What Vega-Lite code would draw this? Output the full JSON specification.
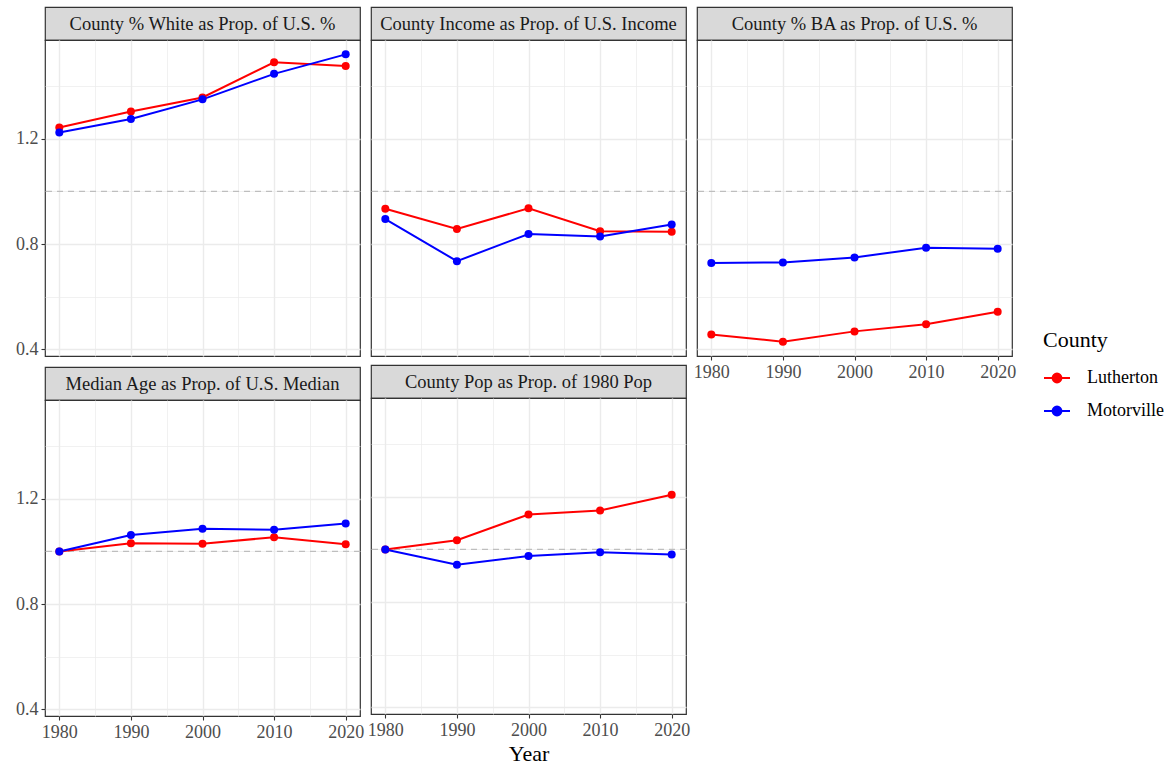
{
  "$schema": "https://vega.github.io/schema/vega-lite/v6.json",
  "padding": {"left": 14, "top": 6, "right": 5, "bottom": 5},
  "background": "white",
  "datasets": {
    "panels": [
      {"panel": "white", "label": "County % White as Prop. of U.S. %"},
      {"panel": "income", "label": "County Income as Prop. of U.S. Income"},
      {"panel": "ba", "label": "County % BA as Prop. of U.S. %"},
      {"panel": "age", "label": "Median Age as Prop. of U.S. Median"},
      {"panel": "pop", "label": "County Pop as Prop. of 1980 Pop"}
    ],
    "refs": [{"ref": 1}],
    "rows": [
      {"panel": "white", "county": "Lutherton", "year": 1980, "value": 1.243},
      {"panel": "white", "county": "Lutherton", "year": 1990, "value": 1.304},
      {"panel": "white", "county": "Lutherton", "year": 2000, "value": 1.357},
      {"panel": "white", "county": "Lutherton", "year": 2010, "value": 1.491},
      {"panel": "white", "county": "Lutherton", "year": 2020, "value": 1.477},
      {"panel": "income", "county": "Lutherton", "year": 1980, "value": 0.934},
      {"panel": "income", "county": "Lutherton", "year": 1990, "value": 0.857},
      {"panel": "income", "county": "Lutherton", "year": 2000, "value": 0.936},
      {"panel": "income", "county": "Lutherton", "year": 2010, "value": 0.849},
      {"panel": "income", "county": "Lutherton", "year": 2020, "value": 0.847},
      {"panel": "ba", "county": "Lutherton", "year": 1980, "value": 0.456},
      {"panel": "ba", "county": "Lutherton", "year": 1990, "value": 0.429},
      {"panel": "ba", "county": "Lutherton", "year": 2000, "value": 0.468},
      {"panel": "ba", "county": "Lutherton", "year": 2010, "value": 0.495},
      {"panel": "ba", "county": "Lutherton", "year": 2020, "value": 0.543},
      {"panel": "age", "county": "Lutherton", "year": 1980, "value": 1.0},
      {"panel": "age", "county": "Lutherton", "year": 1990, "value": 1.031},
      {"panel": "age", "county": "Lutherton", "year": 2000, "value": 1.029},
      {"panel": "age", "county": "Lutherton", "year": 2010, "value": 1.054},
      {"panel": "age", "county": "Lutherton", "year": 2020, "value": 1.027},
      {"panel": "pop", "county": "Lutherton", "year": 1980, "value": 1.0},
      {"panel": "pop", "county": "Lutherton", "year": 1990, "value": 1.035},
      {"panel": "pop", "county": "Lutherton", "year": 2000, "value": 1.133},
      {"panel": "pop", "county": "Lutherton", "year": 2010, "value": 1.148},
      {"panel": "pop", "county": "Lutherton", "year": 2020, "value": 1.208},
      {"panel": "white", "county": "Motorville", "year": 1980, "value": 1.224},
      {"panel": "white", "county": "Motorville", "year": 1990, "value": 1.275},
      {"panel": "white", "county": "Motorville", "year": 2000, "value": 1.35},
      {"panel": "white", "county": "Motorville", "year": 2010, "value": 1.447},
      {"panel": "white", "county": "Motorville", "year": 2020, "value": 1.521},
      {"panel": "income", "county": "Motorville", "year": 1980, "value": 0.895},
      {"panel": "income", "county": "Motorville", "year": 1990, "value": 0.735},
      {"panel": "income", "county": "Motorville", "year": 2000, "value": 0.838},
      {"panel": "income", "county": "Motorville", "year": 2010, "value": 0.829},
      {"panel": "income", "county": "Motorville", "year": 2020, "value": 0.874},
      {"panel": "ba", "county": "Motorville", "year": 1980, "value": 0.728},
      {"panel": "ba", "county": "Motorville", "year": 1990, "value": 0.73},
      {"panel": "ba", "county": "Motorville", "year": 2000, "value": 0.749},
      {"panel": "ba", "county": "Motorville", "year": 2010, "value": 0.786},
      {"panel": "ba", "county": "Motorville", "year": 2020, "value": 0.782},
      {"panel": "age", "county": "Motorville", "year": 1980, "value": 1.0},
      {"panel": "age", "county": "Motorville", "year": 1990, "value": 1.062},
      {"panel": "age", "county": "Motorville", "year": 2000, "value": 1.086},
      {"panel": "age", "county": "Motorville", "year": 2010, "value": 1.082},
      {"panel": "age", "county": "Motorville", "year": 2020, "value": 1.106},
      {"panel": "pop", "county": "Motorville", "year": 1980, "value": 1.0},
      {"panel": "pop", "county": "Motorville", "year": 1990, "value": 0.942},
      {"panel": "pop", "county": "Motorville", "year": 2000, "value": 0.975},
      {"panel": "pop", "county": "Motorville", "year": 2010, "value": 0.989},
      {"panel": "pop", "county": "Motorville", "year": 2020, "value": 0.981}
    ]
  },
  "spacing": 1,
  "hconcat": [
    {
      "spacing": 7,
      "vconcat": [
        {
          "spacing": 0, "bounds": "flush",
          "vconcat": [
            {
              "width": 315, "height": 33,
              "view": {"fill": "#d9d9d9", "stroke": "#333333", "strokeWidth": 1.2},
              "data": {"name": "panels"},
              "transform": [{"filter": "datum.panel === 'white'"}],
              "mark": {"type": "text", "fontSize": 18.5, "color": "#1a1a1a", "baseline": "middle", "align": "center"},
              "encoding": {"text": {"field": "label"}}
            },
            {
              "width": 315, "height": 316,
              "resolve": {"axis": {"x": "independent", "y": "independent"}},
              "layer": [
                {
                  "data": {"name": "refs"},
                  "mark": {"type": "rule", "color": "#bebebe", "strokeDash": [6, 5], "strokeWidth": 1.3},
                  "encoding": {"y": {"field": "ref", "type": "quantitative", "axis": null, "scale": {"domain": [0.3744, 1.5756], "nice": false, "zero": false}}}
                },
                {
                  "data": {"name": "rows"},
                  "transform": [{"filter": "datum.panel === 'white'"}],
                  "mark": {"type": "line", "strokeWidth": 2},
                  "encoding": {
                    "x": {"field": "year", "type": "quantitative", "scale": {"domain": [1978, 2022], "nice": false, "zero": false}, "axis": {"orient": "bottom", "values": [1980, 1990, 2000, 2010, 2020], "grid": true, "labels": false, "ticks": false, "title": null}},
                    "y": {"field": "value", "type": "quantitative", "axis": {"orient": "left", "values": [0.4, 0.8, 1.2], "grid": true, "format": ".1f", "title": null}},
                    "color": {"field": "county", "type": "nominal", "title": "County", "scale": {"domain": ["Lutherton", "Motorville"], "range": ["#ff0000", "#0000ff"]},
                      "legend": {"orient": "none", "legendX": 998, "legendY": 323, "symbolType": "M-1,0L1,0M-0.34,0A0.34,0.34,0,1,0,0.34,0A0.34,0.34,0,1,0,-0.34,0Z", "symbolSize": 676,
                        "encode": {"symbols": {"update": {"fill": {"scale": "color", "field": "value"}, "stroke": {"scale": "color", "field": "value"}, "strokeWidth": {"value": 2}}}}}}
                  }
                },
                {
                  "data": {"name": "rows"},
                  "transform": [{"filter": "datum.panel === 'white'"}],
                  "mark": {"type": "circle", "size": 64, "opacity": 1},
                  "encoding": {
                    "x": {"field": "year", "type": "quantitative", "axis": {"orient": "top", "values": [1985, 1995, 2005, 2015], "grid": true, "gridWidth": 0.7, "labels": false, "ticks": false, "title": null}},
                    "y": {"field": "value", "type": "quantitative", "axis": {"orient": "right", "values": [0.6, 1.0, 1.4], "grid": true, "gridWidth": 0.7, "labels": false, "ticks": false, "title": null}},
                    "color": {"field": "county", "type": "nominal", "title": "County", "scale": {"domain": ["Lutherton", "Motorville"], "range": ["#ff0000", "#0000ff"]},
                      "legend": {"orient": "none", "legendX": 998, "legendY": 323, "symbolType": "M-1,0L1,0M-0.34,0A0.34,0.34,0,1,0,0.34,0A0.34,0.34,0,1,0,-0.34,0Z", "symbolSize": 676,
                        "encode": {"symbols": {"update": {"fill": {"scale": "color", "field": "value"}, "stroke": {"scale": "color", "field": "value"}, "strokeWidth": {"value": 2}}}}}}
                  }
                }
              ]
            }
          ]
        },
        {
          "spacing": 0, "bounds": "flush",
          "vconcat": [
            {
              "width": 315, "height": 33,
              "view": {"fill": "#d9d9d9", "stroke": "#333333", "strokeWidth": 1.2},
              "data": {"name": "panels"},
              "transform": [{"filter": "datum.panel === 'age'"}],
              "mark": {"type": "text", "fontSize": 18.5, "color": "#1a1a1a", "baseline": "middle", "align": "center"},
              "encoding": {"text": {"field": "label"}}
            },
            {
              "width": 315, "height": 316,
              "resolve": {"axis": {"x": "independent", "y": "independent"}},
              "layer": [
                {
                  "data": {"name": "refs"},
                  "mark": {"type": "rule", "color": "#bebebe", "strokeDash": [6, 5], "strokeWidth": 1.3},
                  "encoding": {"y": {"field": "ref", "type": "quantitative", "axis": null, "scale": {"domain": [0.3744, 1.5756], "nice": false, "zero": false}}}
                },
                {
                  "data": {"name": "rows"},
                  "transform": [{"filter": "datum.panel === 'age'"}],
                  "mark": {"type": "line", "strokeWidth": 2},
                  "encoding": {
                    "x": {"field": "year", "type": "quantitative", "scale": {"domain": [1978, 2022], "nice": false, "zero": false}, "axis": {"orient": "bottom", "values": [1980, 1990, 2000, 2010, 2020], "grid": true, "format": "d", "title": null}},
                    "y": {"field": "value", "type": "quantitative", "axis": {"orient": "left", "values": [0.4, 0.8, 1.2], "grid": true, "format": ".1f", "title": null}},
                    "color": {"field": "county", "type": "nominal", "title": "County", "scale": {"domain": ["Lutherton", "Motorville"], "range": ["#ff0000", "#0000ff"]},
                      "legend": {"orient": "none", "legendX": 998, "legendY": 323, "symbolType": "M-1,0L1,0M-0.34,0A0.34,0.34,0,1,0,0.34,0A0.34,0.34,0,1,0,-0.34,0Z", "symbolSize": 676,
                        "encode": {"symbols": {"update": {"fill": {"scale": "color", "field": "value"}, "stroke": {"scale": "color", "field": "value"}, "strokeWidth": {"value": 2}}}}}}
                  }
                },
                {
                  "data": {"name": "rows"},
                  "transform": [{"filter": "datum.panel === 'age'"}],
                  "mark": {"type": "circle", "size": 64, "opacity": 1},
                  "encoding": {
                    "x": {"field": "year", "type": "quantitative", "axis": {"orient": "top", "values": [1985, 1995, 2005, 2015], "grid": true, "gridWidth": 0.7, "labels": false, "ticks": false, "title": null}},
                    "y": {"field": "value", "type": "quantitative", "axis": {"orient": "right", "values": [0.6, 1.0, 1.4], "grid": true, "gridWidth": 0.7, "labels": false, "ticks": false, "title": null}},
                    "color": {"field": "county", "type": "nominal", "title": "County", "scale": {"domain": ["Lutherton", "Motorville"], "range": ["#ff0000", "#0000ff"]},
                      "legend": {"orient": "none", "legendX": 998, "legendY": 323, "symbolType": "M-1,0L1,0M-0.34,0A0.34,0.34,0,1,0,0.34,0A0.34,0.34,0,1,0,-0.34,0Z", "symbolSize": 676,
                        "encode": {"symbols": {"update": {"fill": {"scale": "color", "field": "value"}, "stroke": {"scale": "color", "field": "value"}, "strokeWidth": {"value": 2}}}}}}
                  }
                }
              ]
            }
          ]
        }
      ]
    },
    {
      "spacing": 7,
      "vconcat": [
        {
          "spacing": 0, "bounds": "flush",
          "vconcat": [
            {
              "width": 315, "height": 33,
              "view": {"fill": "#d9d9d9", "stroke": "#333333", "strokeWidth": 1.2},
              "data": {"name": "panels"},
              "transform": [{"filter": "datum.panel === 'income'"}],
              "mark": {"type": "text", "fontSize": 18.5, "color": "#1a1a1a", "baseline": "middle", "align": "center"},
              "encoding": {"text": {"field": "label"}}
            },
            {
              "width": 315, "height": 316,
              "resolve": {"axis": {"x": "independent", "y": "independent"}},
              "layer": [
                {
                  "data": {"name": "refs"},
                  "mark": {"type": "rule", "color": "#bebebe", "strokeDash": [6, 5], "strokeWidth": 1.3},
                  "encoding": {"y": {"field": "ref", "type": "quantitative", "axis": null, "scale": {"domain": [0.3744, 1.5756], "nice": false, "zero": false}}}
                },
                {
                  "data": {"name": "rows"},
                  "transform": [{"filter": "datum.panel === 'income'"}],
                  "mark": {"type": "line", "strokeWidth": 2},
                  "encoding": {
                    "x": {"field": "year", "type": "quantitative", "scale": {"domain": [1978, 2022], "nice": false, "zero": false}, "axis": {"orient": "bottom", "values": [1980, 1990, 2000, 2010, 2020], "grid": true, "labels": false, "ticks": false, "title": null}},
                    "y": {"field": "value", "type": "quantitative", "axis": {"orient": "left", "values": [0.4, 0.8, 1.2], "grid": true, "labels": false, "ticks": false, "title": null}},
                    "color": {"field": "county", "type": "nominal", "title": "County", "scale": {"domain": ["Lutherton", "Motorville"], "range": ["#ff0000", "#0000ff"]},
                      "legend": {"orient": "none", "legendX": 998, "legendY": 323, "symbolType": "M-1,0L1,0M-0.34,0A0.34,0.34,0,1,0,0.34,0A0.34,0.34,0,1,0,-0.34,0Z", "symbolSize": 676,
                        "encode": {"symbols": {"update": {"fill": {"scale": "color", "field": "value"}, "stroke": {"scale": "color", "field": "value"}, "strokeWidth": {"value": 2}}}}}}
                  }
                },
                {
                  "data": {"name": "rows"},
                  "transform": [{"filter": "datum.panel === 'income'"}],
                  "mark": {"type": "circle", "size": 64, "opacity": 1},
                  "encoding": {
                    "x": {"field": "year", "type": "quantitative", "axis": {"orient": "top", "values": [1985, 1995, 2005, 2015], "grid": true, "gridWidth": 0.7, "labels": false, "ticks": false, "title": null}},
                    "y": {"field": "value", "type": "quantitative", "axis": {"orient": "right", "values": [0.6, 1.0, 1.4], "grid": true, "gridWidth": 0.7, "labels": false, "ticks": false, "title": null}},
                    "color": {"field": "county", "type": "nominal", "title": "County", "scale": {"domain": ["Lutherton", "Motorville"], "range": ["#ff0000", "#0000ff"]},
                      "legend": {"orient": "none", "legendX": 998, "legendY": 323, "symbolType": "M-1,0L1,0M-0.34,0A0.34,0.34,0,1,0,0.34,0A0.34,0.34,0,1,0,-0.34,0Z", "symbolSize": 676,
                        "encode": {"symbols": {"update": {"fill": {"scale": "color", "field": "value"}, "stroke": {"scale": "color", "field": "value"}, "strokeWidth": {"value": 2}}}}}}
                  }
                }
              ]
            }
          ]
        },
        {
          "spacing": 0, "bounds": "flush",
          "vconcat": [
            {
              "width": 315, "height": 33,
              "view": {"fill": "#d9d9d9", "stroke": "#333333", "strokeWidth": 1.2},
              "data": {"name": "panels"},
              "transform": [{"filter": "datum.panel === 'pop'"}],
              "mark": {"type": "text", "fontSize": 18.5, "color": "#1a1a1a", "baseline": "middle", "align": "center"},
              "encoding": {"text": {"field": "label"}}
            },
            {
              "width": 315, "height": 316,
              "resolve": {"axis": {"x": "independent", "y": "independent"}},
              "layer": [
                {
                  "data": {"name": "refs"},
                  "mark": {"type": "rule", "color": "#bebebe", "strokeDash": [6, 5], "strokeWidth": 1.3},
                  "encoding": {"y": {"field": "ref", "type": "quantitative", "axis": null, "scale": {"domain": [0.3744, 1.5756], "nice": false, "zero": false}}}
                },
                {
                  "data": {"name": "rows"},
                  "transform": [{"filter": "datum.panel === 'pop'"}],
                  "mark": {"type": "line", "strokeWidth": 2},
                  "encoding": {
                    "x": {"field": "year", "type": "quantitative", "scale": {"domain": [1978, 2022], "nice": false, "zero": false}, "axis": {"orient": "bottom", "values": [1980, 1990, 2000, 2010, 2020], "grid": true, "format": "d", "title": "Year"}},
                    "y": {"field": "value", "type": "quantitative", "axis": {"orient": "left", "values": [0.4, 0.8, 1.2], "grid": true, "labels": false, "ticks": false, "title": null}},
                    "color": {"field": "county", "type": "nominal", "title": "County", "scale": {"domain": ["Lutherton", "Motorville"], "range": ["#ff0000", "#0000ff"]},
                      "legend": {"orient": "none", "legendX": 998, "legendY": 323, "symbolType": "M-1,0L1,0M-0.34,0A0.34,0.34,0,1,0,0.34,0A0.34,0.34,0,1,0,-0.34,0Z", "symbolSize": 676,
                        "encode": {"symbols": {"update": {"fill": {"scale": "color", "field": "value"}, "stroke": {"scale": "color", "field": "value"}, "strokeWidth": {"value": 2}}}}}}
                  }
                },
                {
                  "data": {"name": "rows"},
                  "transform": [{"filter": "datum.panel === 'pop'"}],
                  "mark": {"type": "circle", "size": 64, "opacity": 1},
                  "encoding": {
                    "x": {"field": "year", "type": "quantitative", "axis": {"orient": "top", "values": [1985, 1995, 2005, 2015], "grid": true, "gridWidth": 0.7, "labels": false, "ticks": false, "title": null}},
                    "y": {"field": "value", "type": "quantitative", "axis": {"orient": "right", "values": [0.6, 1.0, 1.4], "grid": true, "gridWidth": 0.7, "labels": false, "ticks": false, "title": null}},
                    "color": {"field": "county", "type": "nominal", "title": "County", "scale": {"domain": ["Lutherton", "Motorville"], "range": ["#ff0000", "#0000ff"]},
                      "legend": {"orient": "none", "legendX": 998, "legendY": 323, "symbolType": "M-1,0L1,0M-0.34,0A0.34,0.34,0,1,0,0.34,0A0.34,0.34,0,1,0,-0.34,0Z", "symbolSize": 676,
                        "encode": {"symbols": {"update": {"fill": {"scale": "color", "field": "value"}, "stroke": {"scale": "color", "field": "value"}, "strokeWidth": {"value": 2}}}}}}
                  }
                }
              ]
            }
          ]
        }
      ]
    },
    {
      "spacing": 0, "bounds": "flush",
      "vconcat": [
        {
          "width": 315, "height": 33,
          "view": {"fill": "#d9d9d9", "stroke": "#333333", "strokeWidth": 1.2},
          "data": {"name": "panels"},
          "transform": [{"filter": "datum.panel === 'ba'"}],
          "mark": {"type": "text", "fontSize": 18.5, "color": "#1a1a1a", "baseline": "middle", "align": "center"},
          "encoding": {"text": {"field": "label"}}
        },
        {
          "width": 315, "height": 316,
          "resolve": {"axis": {"x": "independent", "y": "independent"}},
          "layer": [
            {
              "data": {"name": "refs"},
              "mark": {"type": "rule", "color": "#bebebe", "strokeDash": [6, 5], "strokeWidth": 1.3},
              "encoding": {"y": {"field": "ref", "type": "quantitative", "axis": null, "scale": {"domain": [0.3744, 1.5756], "nice": false, "zero": false}}}
            },
            {
              "data": {"name": "rows"},
              "transform": [{"filter": "datum.panel === 'ba'"}],
              "mark": {"type": "line", "strokeWidth": 2},
              "encoding": {
                "x": {"field": "year", "type": "quantitative", "scale": {"domain": [1978, 2022], "nice": false, "zero": false}, "axis": {"orient": "bottom", "values": [1980, 1990, 2000, 2010, 2020], "grid": true, "format": "d", "title": null}},
                "y": {"field": "value", "type": "quantitative", "axis": {"orient": "left", "values": [0.4, 0.8, 1.2], "grid": true, "labels": false, "ticks": false, "title": null}},
                "color": {"field": "county", "type": "nominal", "title": "County", "scale": {"domain": ["Lutherton", "Motorville"], "range": ["#ff0000", "#0000ff"]},
                  "legend": {"orient": "none", "legendX": 998, "legendY": 323, "symbolType": "M-1,0L1,0M-0.34,0A0.34,0.34,0,1,0,0.34,0A0.34,0.34,0,1,0,-0.34,0Z", "symbolSize": 676,
                    "encode": {"symbols": {"update": {"fill": {"scale": "color", "field": "value"}, "stroke": {"scale": "color", "field": "value"}, "strokeWidth": {"value": 2}}}}}}
              }
            },
            {
              "data": {"name": "rows"},
              "transform": [{"filter": "datum.panel === 'ba'"}],
              "mark": {"type": "circle", "size": 64, "opacity": 1},
              "encoding": {
                "x": {"field": "year", "type": "quantitative", "axis": {"orient": "top", "values": [1985, 1995, 2005, 2015], "grid": true, "gridWidth": 0.7, "labels": false, "ticks": false, "title": null}},
                "y": {"field": "value", "type": "quantitative", "axis": {"orient": "right", "values": [0.6, 1.0, 1.4], "grid": true, "gridWidth": 0.7, "labels": false, "ticks": false, "title": null}},
                "color": {"field": "county", "type": "nominal", "title": "County", "scale": {"domain": ["Lutherton", "Motorville"], "range": ["#ff0000", "#0000ff"]},
                  "legend": {"orient": "none", "legendX": 998, "legendY": 323, "symbolType": "M-1,0L1,0M-0.34,0A0.34,0.34,0,1,0,0.34,0A0.34,0.34,0,1,0,-0.34,0Z", "symbolSize": 676,
                    "encode": {"symbols": {"update": {"fill": {"scale": "color", "field": "value"}, "stroke": {"scale": "color", "field": "value"}, "strokeWidth": {"value": 2}}}}}}
              }
            }
          ]
        }
      ]
    }
  ],
  "config": {
    "font": "Liberation Serif",
    "view": {"stroke": "#333333", "strokeWidth": 1.2},
    "axis": {
      "labelFont": "Liberation Serif", "labelFontSize": 18, "labelColor": "#4d4d4d",
      "tickColor": "#333333", "tickSize": 4, "tickWidth": 1.1, "domain": false,
      "gridColor": "#ebebeb", "gridWidth": 1.4, "labelPadding": 3,
      "labelOverlap": false, "labelFlush": false, "labelBound": false,
      "titleFont": "Liberation Serif", "titleFontSize": 22, "titleFontWeight": "normal", "titleColor": "#000000", "titlePadding": 4
    },
    "legend": {
      "titleFont": "Liberation Serif", "titleFontSize": 22, "titleFontWeight": "normal", "titleColor": "#000000", "titlePadding": 12,
      "labelFont": "Liberation Serif", "labelFontSize": 18, "labelColor": "#000000", "labelOffset": 16,
      "symbolStrokeWidth": 2, "rowPadding": 10
    }
  }
}
